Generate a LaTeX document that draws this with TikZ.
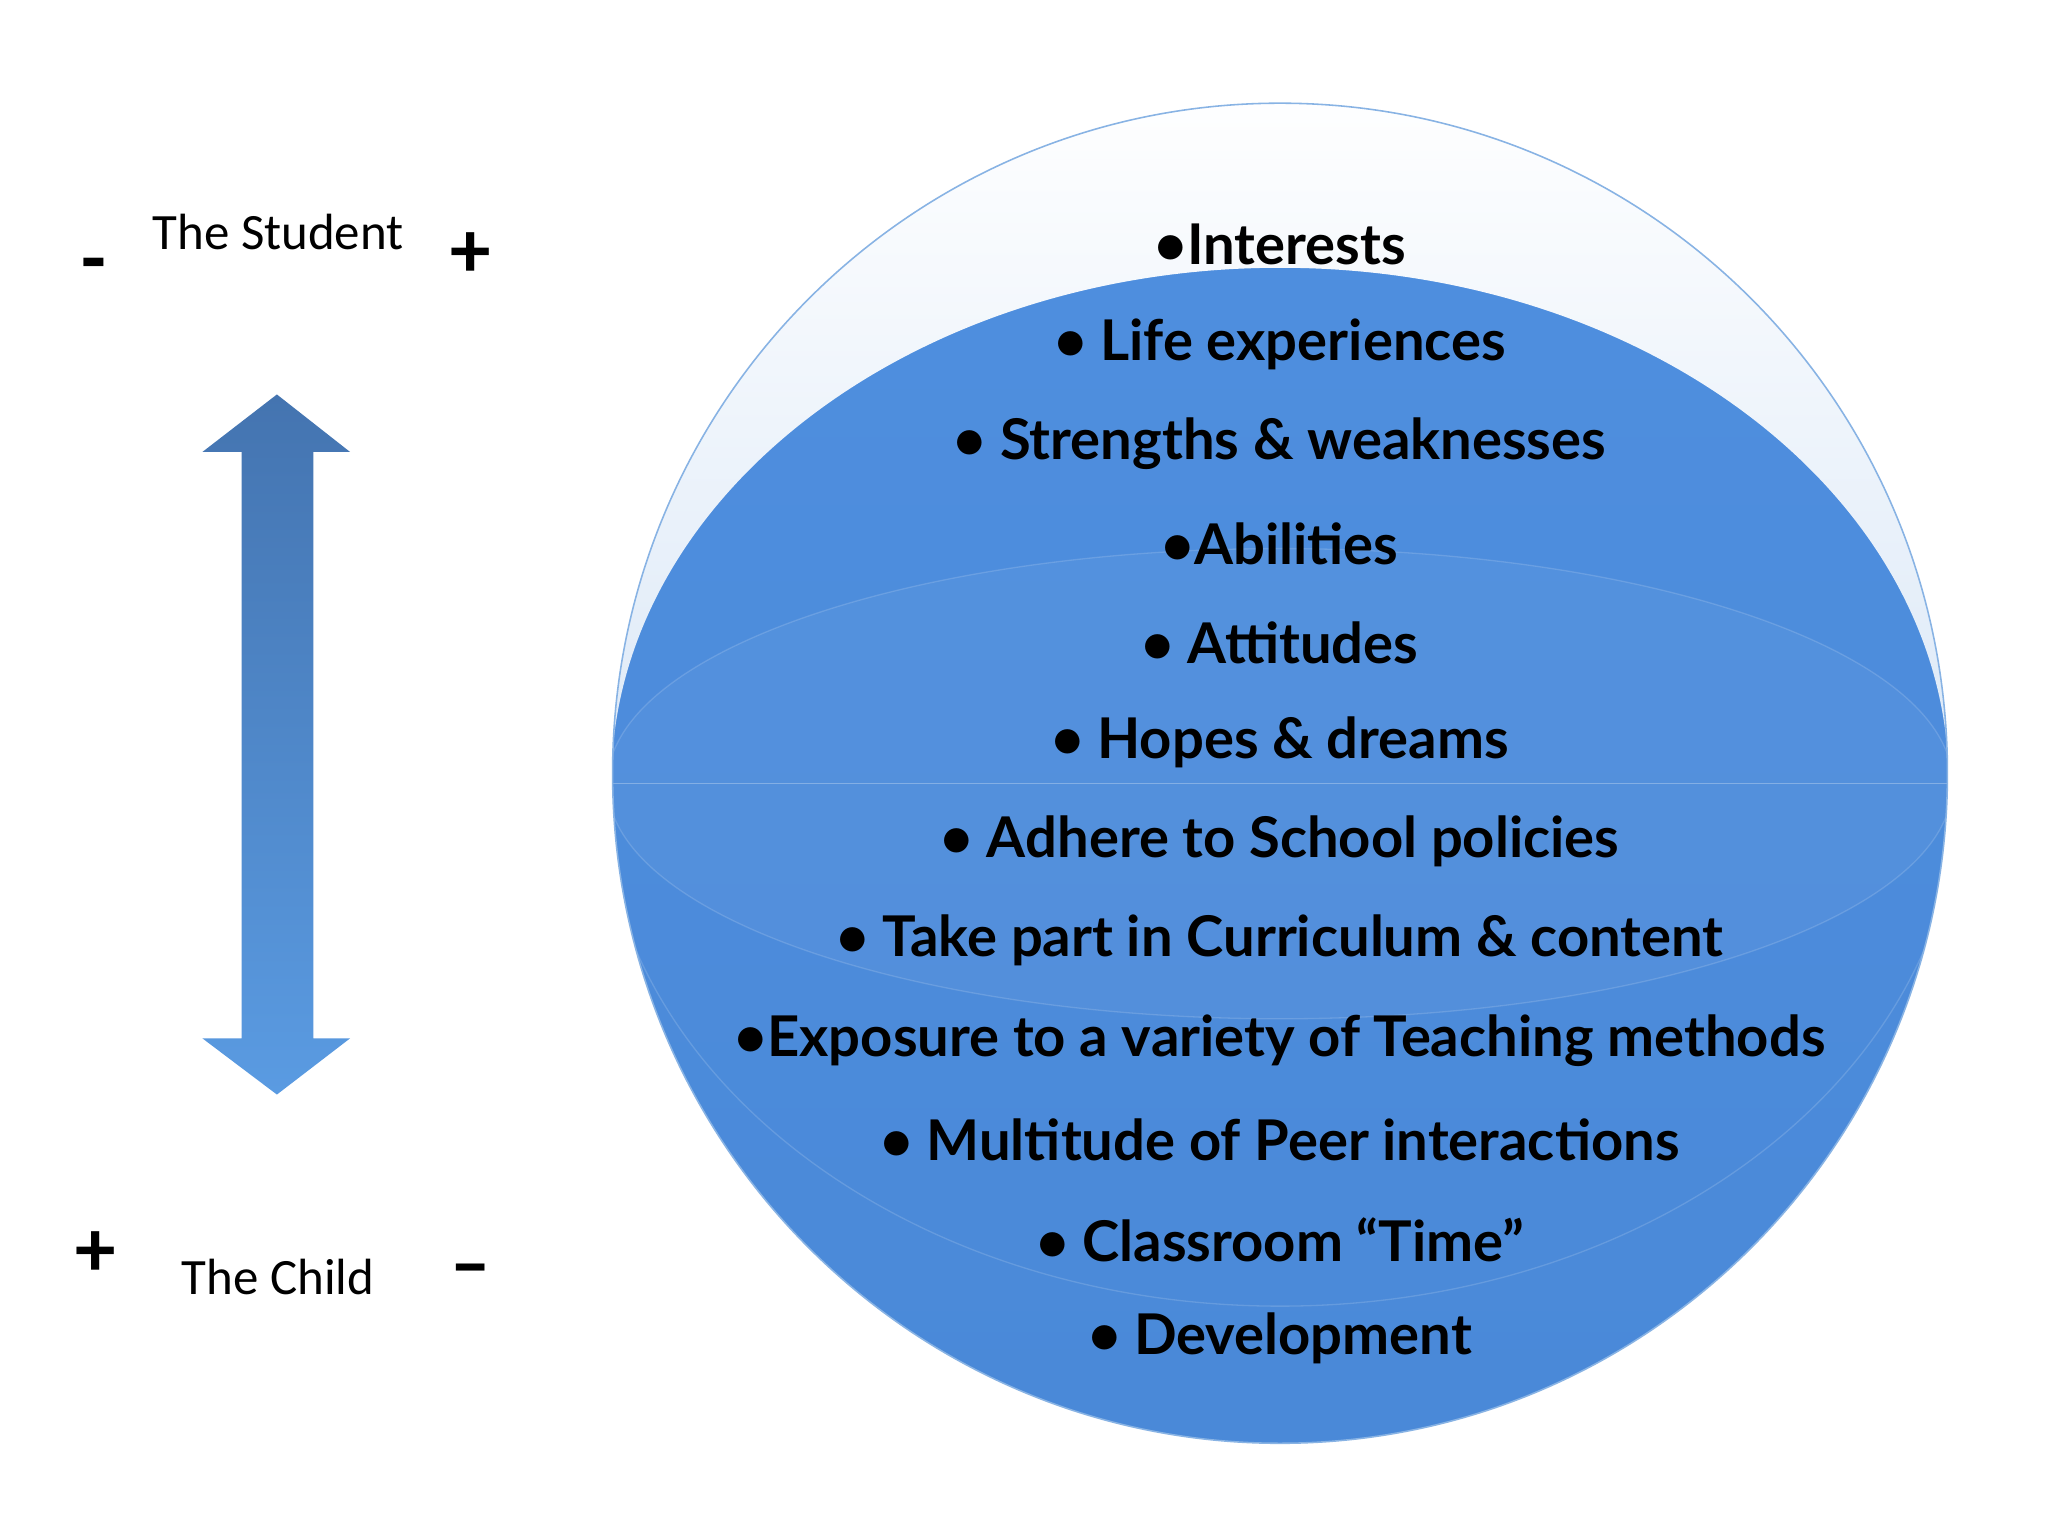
\documentclass[tikz,border=0pt]{standalone}
\usepackage{fontspec}
\setmainfont{Carlito}
\newfontfamily\itemfont{Lato}
\definecolor{sph}{HTML}{5592D8}
\definecolor{sphtop}{HTML}{4F8FDF}
\definecolor{sphmid}{HTML}{6497D2}
\definecolor{sphbot}{HTML}{4A89D8}
\definecolor{arrtop}{HTML}{4474B0}
\definecolor{arrbot}{HTML}{5A9BE2}
\begin{document}
\begin{tikzpicture}[x=1pt,y=-1pt,
  item/.style={font=\itemfont\bfseries\fontsize{43}{46}\selectfont, text=black, anchor=center, inner sep=0},
  lab/.style={font=\fontsize{39}{42}\selectfont, text=black, anchor=center, inner sep=0},
  sign/.style={font=\bfseries\fontsize{62}{64}\selectfont, text=black, anchor=center, inner sep=0}]
\useasboundingbox (0,0) rectangle (1568,1176);
\fill[white] (0,0) rectangle (1568,1176);
% sphere
\begin{scope}
\clip (980,592) ellipse [x radius=511, y radius=513];
\shade[top color=sphtop, middle color=sphmid, bottom color=sphbot] (469,78) rectangle (1491,1106);
\fill[white, opacity=0.04] (980,600) ellipse [x radius=515, y radius=180];
\draw[white, opacity=0.15, line width=1pt] (980,600) ellipse [x radius=515, y radius=180];
\draw[white, opacity=0.15, line width=1pt] (980,600) ellipse [x radius=520, y radius=400];
% top cap
\begin{scope}
\clip (400,60) rectangle (1560,600);
\shade[top color=white, bottom color=sph!35!white, even odd rule]
  (400,60) rectangle (1560,600) (980,600) ellipse [x radius=512, y radius=395];
\end{scope}
\end{scope}
\draw[sph!70!white, line width=1.2pt] (980,592) ellipse [x radius=511, y radius=513];
% items
\node[item] (i1) at (980,187) {•Interests};
\node[item] (i2) at (980,264) {• Life experiences};
\node[item] (i3) at (980,340) {• Strengths \& weaknesses};
\node[item] (i4) at (980,416) {•Abilities};
\node[item] (i5) at (980,492) {• Attitudes};
\node[item] (i6) at (980,568) {• Hopes \& dreams};
\node[item] (i7) at (980,644) {• Adhere to School policies};
\node[item] (i8) at (980,720) {• Take part in Curriculum \& content};
\node[item] (i9) at (980,797) {•Exposure to a variety of Teaching methods};
\node[item] (i10) at (980,873) {• Multitude of Peer interactions};
\node[item] (i11) at (980,949) {• Classroom “Time”};
\node[item] (i12) at (980,1025) {• Development};
% arrow
\shade[top color=arrtop, bottom color=arrbot]
 (212,302) -- (268,346) -- (240,346) -- (240,795) -- (268,795) -- (212,838) -- (155,795) -- (185,795) -- (185,346) -- (155,346) -- cycle;
% labels
\node[lab] (ts) at (213,178) {The Student};
\node[sign] (m1) at (72,208) {-};
\node[sign] (p1) at (360,195) {+};
\node[sign] (p2) at (73,960) {+};
\node[lab] (tc) at (213,978) {The Child};
\node[sign] (m2) at (360,978) {–};
\end{tikzpicture}
\end{document}
